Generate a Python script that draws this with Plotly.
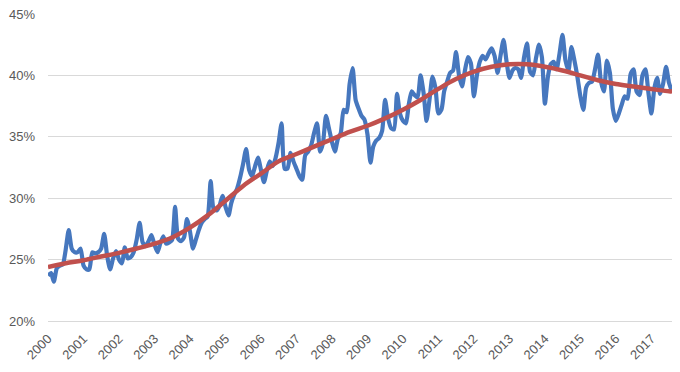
import pandas as pd
import plotly.graph_objects as go

# Monthly share (%), Jan 2000 – Aug 2017
share = [
    23.7, 23.9, 23.2, 24.3, 24.5, 24.6, 25.8, 27.4, 25.9, 25.6, 25.6, 25.9,   # 2000
    24.5, 24.2, 24.2, 25.6, 25.5, 25.6, 25.9, 27.1, 25.3, 24.2, 25.1, 25.7,   # 2001
    25.0, 24.7, 26.0, 25.1, 25.2, 25.6, 26.6, 28.0, 26.4, 26.1, 26.5, 27.0,   # 2002
    26.2, 25.6, 26.3, 26.9, 26.3, 26.4, 26.6, 29.3, 26.7, 26.5, 26.8, 28.3,   # 2003
    27.3, 25.9, 26.6, 27.4, 28.0, 28.3, 28.5, 31.4, 29.1, 29.0, 29.4, 30.2,   # 2004
    29.3, 28.6, 29.6, 30.3, 30.8, 31.7, 32.8, 34.0, 32.3, 31.8, 32.6, 33.3,   # 2005
    32.3, 31.3, 32.2, 33.0, 32.6, 33.3, 34.5, 36.1, 32.4, 32.4, 33.7, 33.0,   # 2006
    32.4, 31.8, 31.5, 33.5, 33.8, 34.3, 35.3, 36.1, 33.8, 34.5, 36.7, 35.7,   # 2007
    34.6, 33.8, 34.8, 35.3, 37.2, 37.0, 39.3, 40.6, 38.0, 37.3, 36.7, 36.4,   # 2008
    35.2, 32.9, 34.2, 34.7, 34.9, 35.5, 38.0, 36.5, 35.7, 35.6, 38.5, 36.9,   # 2009
    36.3, 36.1, 37.6, 38.7, 38.4, 38.2, 40.0, 38.6, 36.3, 38.0, 39.9, 39.0,   # 2010
    36.9, 37.2, 38.7, 39.5, 40.2, 40.4, 41.9, 40.0, 39.1, 40.4, 41.5, 41.0,   # 2011
    38.3, 40.0, 41.1, 41.6, 41.3, 41.8, 42.2, 41.6, 40.2, 41.6, 42.9, 41.2,   # 2012
    39.8, 40.4, 40.6, 40.5, 39.8, 41.5, 42.6, 40.3, 40.0, 41.4, 42.5, 41.5,   # 2013
    37.7, 39.9, 40.9, 41.1, 40.5, 41.8, 43.3, 41.2, 40.4, 42.3, 41.2, 39.9,   # 2014
    38.3, 37.2, 39.0, 39.4, 39.5, 40.5, 41.7, 39.5, 38.7, 41.2, 40.2, 37.3,   # 2015
    36.3, 36.9, 37.6, 38.3, 38.1, 40.1, 40.5, 38.7, 38.4, 40.0, 40.5, 38.6,   # 2016
    36.9, 39.0, 39.8, 38.5, 39.3, 40.7, 39.4, 38.7,                           # 2017
]

# Smooth trend (%), read every half year, plus the final month
trend = [
    24.4, 24.7, 24.95, 25.25, 25.55, 25.9, 26.3, 26.8, 27.6, 28.6,
    29.8, 31.0, 32.0, 33.0, 33.6, 34.2, 34.8, 35.4, 35.9, 36.5,
    37.2, 38.0, 38.9, 39.7, 40.3, 40.7, 40.9, 40.9, 40.7, 40.4,
    40.0, 39.6, 39.3, 39.1, 38.9, 38.7, 38.7,
]

y_ticks = [20, 25, 30, 35, 40, 45]
y_tick_labels = ["20%", "25%", "30%", "35%", "40%", "45%"]

dates = pd.date_range("2000-01-01", periods=len(share), freq="MS")
trend_dates = list(pd.date_range("2000-01-01", periods=len(trend) - 1, freq="6MS")) + [dates[-1]]

fig = go.Figure()
fig.add_trace(go.Scatter(
    x=dates, y=share, mode="lines",
    line=dict(color="#4677BE", width=4.2, shape="spline", smoothing=0.6),
    showlegend=False, hoverinfo="skip",
))
fig.add_trace(go.Scatter(
    x=trend_dates, y=trend, mode="lines",
    line=dict(color="#C0504D", width=4.5, shape="spline", smoothing=1.0),
    showlegend=False, hoverinfo="skip",
))

font = dict(family="Liberation Sans, Arial, sans-serif", size=13, color="#595959")
# the page body adds an 8px offset, so the figure is sized/margined to compensate
fig.update_layout(
    width=672, height=364,
    margin=dict(l=40, r=8, t=6, b=51),
    paper_bgcolor="white", plot_bgcolor="white",
    font=font,
    xaxis=dict(
        type="date", automargin=False,
        range=[dates[0], dates[-1]],
        tick0="2000-01-01", dtick="M12", tickformat="%Y",
        tickangle=-45, showgrid=False, zeroline=False,
        showline=True, linecolor="#d9d9d9", linewidth=1,
        ticks="", tickfont=font, ticklabelstandoff=4,
        ticklabeloverflow="allow",
    ),
    yaxis=dict(
        automargin=False,
        range=[20, 45], tickvals=y_ticks, ticktext=y_tick_labels,
        showgrid=True, gridcolor="#d9d9d9", gridwidth=1,
        zeroline=False, showline=False, ticks="", tickfont=font,
        ticklabelstandoff=12, ticklabeloverflow="allow",
    ),
)

fig.write_html("out.html")
